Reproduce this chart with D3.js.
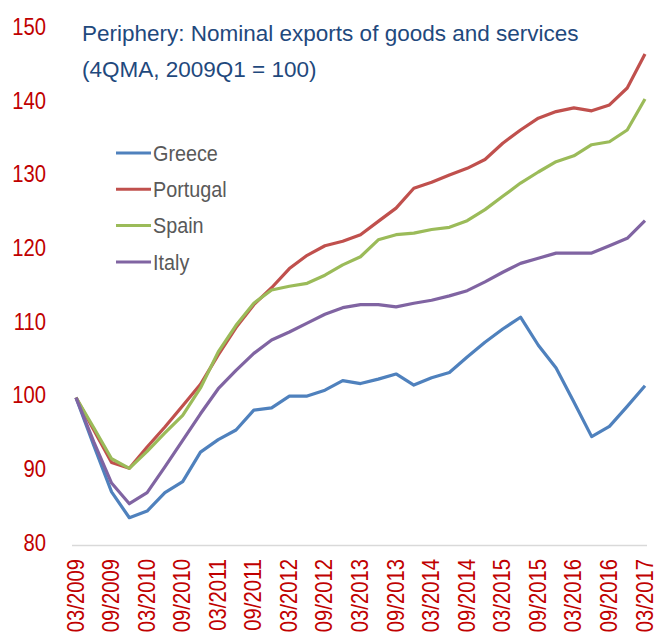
<!DOCTYPE html>
<html>
<head>
<meta charset="utf-8">
<script src="https://d3js.org/d3.v7.min.js"></script>
<style>
  body { margin: 0; background: #fff; }
  svg text { font-family: "Liberation Sans", Arial, sans-serif; }
</style>
</head>
<body>
<div id="chart"></div>
<script>
// quarters 2009Q1 .. 2017Q1
const quarters = [];
for (let yr = 2009; yr <= 2017; yr++) {
  ['03', '06', '09', '12'].forEach(m => {
    if (yr < 2017 || m === '03') quarters.push(m + '/' + yr);
  });
}
const tickLabels = quarters.filter((q, i) => i % 2 === 0);

const greece = [100, 93.5, 87.2, 83.7, 84.6, 87.1, 88.6, 92.6, 94.3, 95.6, 98.3, 98.6, 100.2, 100.2, 101.0, 102.3, 101.9,
  102.5, 103.2, 101.7, 102.7, 103.4, 105.5, 107.5, 109.3, 110.9, 107.1, 104.0, 99.4, 94.7, 96.1, 98.8, 101.6];
const portugal = [100, 95.6, 91.2, 90.4, 93.3, 96.0, 98.9, 101.8, 105.8, 109.5, 112.6, 114.9, 117.5, 119.3, 120.6, 121.2, 122.1,
  123.9, 125.7, 128.4, 129.2, 130.2, 131.1, 132.3, 134.5, 136.3, 137.9, 138.8, 139.3, 138.9, 139.7, 142.0, 146.6];
const spain = [100, 95.9, 91.7, 90.4, 92.7, 95.2, 97.6, 101.3, 106.2, 109.8, 112.8, 114.6, 115.1, 115.5, 116.6, 118.0, 119.1,
  121.4, 122.1, 122.3, 122.8, 123.1, 124.0, 125.5, 127.3, 129.1, 130.6, 132.0, 132.8, 134.3, 134.7, 136.3, 140.5];
const italy = [100, 94.0, 88.4, 85.6, 87.1, 90.6, 94.2, 97.8, 101.2, 103.7, 106.0, 107.8, 108.9, 110.1, 111.3, 112.2, 112.6,
  112.6, 112.3, 112.8, 113.2, 113.8, 114.5, 115.7, 117.0, 118.2, 118.9, 119.6, 119.6, 119.6, 120.6, 121.6, 124.0];

const seriesNames = ['Greece', 'Portugal', 'Spain', 'Italy'];
const seriesValues = [greece, portugal, spain, italy];
const colors = ['#4F81BD', '#C0504D', '#9BBB59', '#8064A2'];
const yTicks = [80, 90, 100, 110, 120, 130, 140, 150];

const width = 664, height = 635;

const svg = d3.select('#chart')
  .append('svg')
  .attr('width', width)
  .attr('height', height);

const x = d3.scalePoint()
  .domain(quarters)
  .range([76, 645]);

const y = d3.scaleLinear()
  .domain([80, 150])
  .range([545, 29]);

// title
const title = svg.append('text')
  .attr('x', 82)
  .attr('y', 41)
  .style('font-size', '22.5px')
  .style('fill', '#1F497D');
title.append('tspan').attr('x', 82).text('Periphery: Nominal exports of goods and services');
title.append('tspan').attr('x', 82).attr('y', 77).text('(4QMA, 2009Q1 = 100)');

// y axis labels
const yAxis = svg.append('g')
  .attr('class', 'y-axis')
  .call(d3.axisLeft(y).tickValues(yTicks).tickSize(0).tickPadding(0));
yAxis.select('.domain').remove();
yAxis.selectAll('text')
  .attr('x', 0)
  .attr('dy', '0.32em')
  .attr('transform', 'translate(46,-2) scale(0.88,1)')
  .style('font-size', '23px')
  .style('font-family', '"Liberation Sans", Arial, sans-serif')
  .style('fill', '#C00000');

// x axis
const xAxis = svg.append('g')
  .attr('class', 'x-axis')
  .attr('transform', 'translate(0,545)')
  .call(d3.axisBottom(x).tickValues(tickLabels).tickSize(0).tickPadding(0));
xAxis.select('.domain')
  .attr('d', 'M72,0.5H647')
  .style('stroke', '#D9D9D9')
  .style('stroke-width', 1.5);
xAxis.selectAll('text')
  .attr('y', 0)
  .attr('x', 0)
  .attr('dy', '0.35em')
  .attr('transform', 'translate(-1,14) rotate(-90) scale(0.88,1)')
  .style('text-anchor', 'end')
  .style('font-size', '23px')
  .style('font-family', '"Liberation Sans", Arial, sans-serif')
  .style('fill', '#C00000');

// lines
const line = d3.line()
  .x((d, i) => x(quarters[i]))
  .y(d => y(d));

svg.append('g')
  .attr('class', 'lines')
  .selectAll('path')
  .data(seriesValues)
  .enter().append('path')
    .attr('d', line)
    .style('fill', 'none')
    .style('stroke', (d, i) => colors[i])
    .style('stroke-width', 3.2)
    .style('stroke-linejoin', 'round');

// legend
const legend = svg.append('g')
  .attr('class', 'legend')
  .selectAll('g')
  .data(seriesNames)
  .enter().append('g')
    .attr('transform', (d, i) => 'translate(116,' + (153 + i * 36.3) + ')');

legend.append('line')
  .attr('x1', 0)
  .attr('x2', 35)
  .style('stroke', (d, i) => colors[i])
  .style('stroke-width', 3);

legend.append('text')
  .attr('x', 0)
  .attr('dy', '0.35em')
  .attr('transform', 'translate(37,0) scale(0.9,1)')
  .style('font-size', '22px')
  .style('fill', '#595959')
  .text(d => d);
</script>
</body>
</html>
